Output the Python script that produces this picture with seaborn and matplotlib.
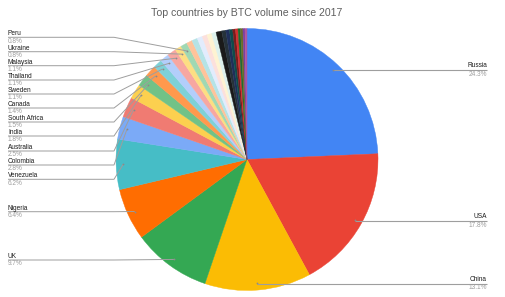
import numpy as np
import matplotlib
matplotlib.use("Agg")
import matplotlib.pyplot as plt
import seaborn as sns

# ---- data ----
title = "Top countries by BTC volume since 2017"
countries = ["Russia", "USA", "China", "UK", "Nigeria", "Venezuela", "Colombia",
             "Australia", "India", "South Africa", "Canada", "Sweden", "Thailand",
             "Malaysia", "Ukraine", "Peru"]
shares = [24.3, 17.8, 13.1, 9.7, 6.4, 6.2, 2.8, 2.5, 1.8, 1.5, 1.4, 1.1, 1.1, 1.1, 0.8, 0.8]
# small unlabeled slices (estimated)
other_shares = [0.7, 0.7, 0.65, 0.6, 0.6, 0.55,
                0.7, 0.5, 0.45, 0.4, 0.35, 0.3, 0.3, 0.3, 0.25, 0.25]

# ---- style ----
colors = ["#4285F4", "#EA4335", "#FBBC04", "#34A853", "#FF6D01", "#46BDC6",
          "#7BAAF7", "#F07B72", "#FCD04F", "#71C287", "#FF994D", "#7ED1D7",
          "#B3CEFB", "#F7A7A1", "#FDDE83", "#A0D8B3"]
other_colors = ["#FFC39A", "#B5E3E6", "#E2ECFD", "#FCE0DC", "#FEF3D2", "#DDF1EC",
                "#1A1A1A", "#26323A", "#1F2F5A", "#0F4C4C", "#7A1C1C", "#D32F2F",
                "#1E6B2E", "#6B6B2A", "#7B3FA0", "#B0579E"]

sns.set_theme(style="white")
plt.rcParams["font.family"] = ["Liberation Sans", "DejaVu Sans"]

W, H = 506, 297
fig = plt.figure(figsize=(W / 100, H / 100), dpi=100)
ax = fig.add_axes([0, 0, 1, 1])

cx, cy, R = 247, 159.5, 131
vals = shares + other_shares
cols = colors + other_colors
wedges, _ = ax.pie(vals, colors=cols, startangle=-90, counterclock=True,
                   center=(cx, cy), radius=R, normalize=True,
                   wedgeprops=dict(linewidth=0))
for w in wedges:
    w.set_edgecolor(w.get_facecolor())
    w.set_linewidth(0.3)
ax.set_xlim(0, W)
ax.set_ylim(H, 0)
ax.set_aspect("equal")
ax.axis("off")

line_c = "#9e9e9e"
name_c = "#1a1a1a"
pct_c = "#9e9e9e"
fs = 4.7

# label layout (line y positions in pixels)
right_lines = {"Russia": 70.3, "USA": 221.3, "China": 283.7}
left_lines = {"Peru": 37.3, "Ukraine": 51.7, "Malaysia": 65.7, "Thailand": 80,
              "Sweden": 94, "Canada": 108, "South Africa": 122, "India": 136,
              "Australia": 151, "Colombia": 165, "Venezuela": 179.3,
              "Nigeria": 211.7, "UK": 260}

for i, name in enumerate(countries):
    w = wedges[i]
    th = np.deg2rad((w.theta1 + w.theta2) / 2)
    r = 0.945 * R
    dx, dy = cx + r * np.cos(th), cy + r * np.sin(th)
    pct = f"{shares[i]:.1f}%"
    if name in right_lines:
        ly = right_lines[name]
        xr = 487
        ax.plot([dx, xr], [ly, ly], color=line_c, lw=0.8, solid_capstyle="butt")
        ax.text(xr, ly - 4.5, name, ha="right", va="center", fontsize=fs, color=name_c)
        ax.text(xr, ly + 3.9, pct, ha="right", va="center", fontsize=fs, color=pct_c)
    else:
        ly = left_lines[name]
        xl, xb = 8, 114
        ax.plot([xl, xb, dx], [ly, ly, dy], color=line_c, lw=0.7, solid_capstyle="butt")
        ax.text(xl, ly - 3.5, name, ha="left", va="center", fontsize=fs, color=name_c)
        ax.text(xl, ly + 3.9, pct, ha="left", va="center", fontsize=fs, color=pct_c)
    ax.plot([dx], [dy], marker="o", ms=1.3, color="#8a8a8a", mew=0)

ax.text(cx, 13, title, ha="center", va="center", fontsize=7.6, color="#5f5f5f")

fig.savefig("out.png", dpi=100)
